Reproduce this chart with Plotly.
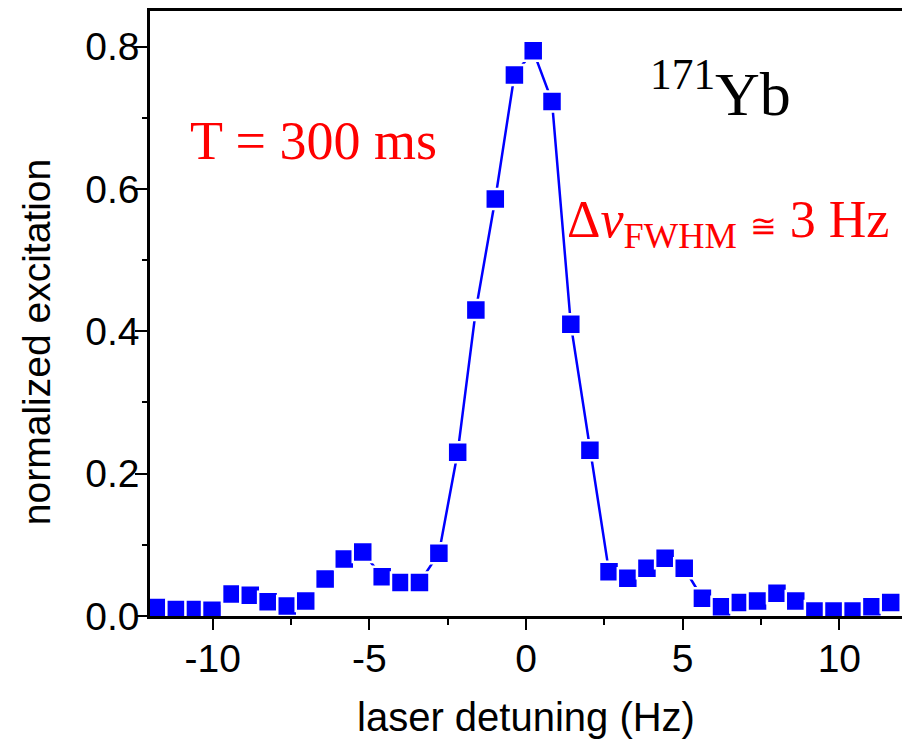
import plotly.graph_objects as go

detuning = [-11.78, -11.16, -10.55, -10.02, -9.38, -8.80, -8.23, -7.62, -7.03, -6.41,
            -5.80, -5.21, -4.59, -3.99, -3.40, -2.78, -2.18, -1.60, -0.98, -0.37,
            0.23, 0.83, 1.43, 2.04, 2.65, 3.25, 3.86, 4.44, 5.05, 5.63,
            6.24, 6.84, 7.39, 8.01, 8.61, 9.22, 9.83, 10.44, 11.04, 11.64]
excitation = [0.012, 0.009, 0.009, 0.008, 0.031, 0.029, 0.020, 0.014, 0.021, 0.052,
              0.080, 0.090, 0.055, 0.047, 0.047, 0.088, 0.230, 0.430, 0.586, 0.760,
              0.794, 0.723, 0.410, 0.233, 0.062, 0.053, 0.067, 0.081, 0.067, 0.025,
              0.013, 0.019, 0.021, 0.032, 0.021, 0.007, 0.007, 0.007, 0.013, 0.019]

x_ticks = [-10, -5, 0, 5, 10]
x_ticklabels = ["-10", "-5", "0", "5", "10"]
y_ticks = [0.0, 0.2, 0.4, 0.6, 0.8]
y_ticklabels = ["0.0", "0.2", "0.4", "0.6", "0.8"]

fig = go.Figure()
fig.add_trace(go.Scatter(
    x=detuning, y=excitation, mode="lines+markers",
    line=dict(color="#0000FF", width=2.5),
    marker=dict(symbol="square", size=20, color="#0000FF",
                line=dict(color="white", width=2.5)),
    showlegend=False,
))

sans = "Liberation Sans, Arial, sans-serif"
serif = "Liberation Serif, Times New Roman, serif"

fig.update_layout(
    width=902, height=744,
    margin=dict(l=150, r=0, t=11, b=128),
    paper_bgcolor="white", plot_bgcolor="white",
    font=dict(family=sans, color="black", size=39),
    xaxis=dict(
        range=[-12, 12], tickvals=x_ticks, ticktext=x_ticklabels, ticks="outside",
        ticklen=11, tickwidth=2, tickcolor="black", showline=True, linecolor="black",
        linewidth=2.5, mirror=True, showgrid=False, zeroline=False,
        tickfont=dict(family=sans, size=39), ticklabelstandoff=-5,
        minor=dict(dtick=2.5, tick0=-12.5, ticks="outside", ticklen=6, tickwidth=2,
                   tickcolor="black", showgrid=False),
    ),
    yaxis=dict(
        range=[0, 0.85], tickvals=y_ticks, ticktext=y_ticklabels, ticks="outside",
        ticklen=12, tickwidth=2, tickcolor="black", showline=True, linecolor="black",
        linewidth=2.5, showgrid=False, zeroline=False,
        tickfont=dict(family=sans, size=39), ticklabelstandoff=-12,
        minor=dict(dtick=0.1, tick0=0, ticks="outside", ticklen=5, tickwidth=2,
                   tickcolor="black", showgrid=False),
    ),
    annotations=[
        dict(x=0.5, y=-0.167, xref="paper", yref="paper", text="laser detuning (Hz)",
             showarrow=False, xanchor="center", yanchor="middle",
             font=dict(family=sans, size=40, color="black")),
        dict(x=-0.150, y=0.453, xref="paper", yref="paper", text="normalized excitation",
             showarrow=False, textangle=-90, xanchor="center", yanchor="middle",
             font=dict(family=sans, size=39, color="black")),
        dict(x=-6.78, y=0.668, xref="x", yref="y", text="T = 300 ms", showarrow=False,
             font=dict(family=serif, size=54, color="#FF0000")),
        dict(x=6.21, y=0.741, xref="x", yref="y", text="<sup>171</sup>Yb", showarrow=False,
             font=dict(family=serif, size=62, color="black")),
        dict(x=6.44, y=0.551, xref="x", yref="y",
             text="Δ<i>ν</i><sub>FWHM</sub> <span style='font-size:32px'>≅</span> 3 Hz",
             showarrow=False, font=dict(family=serif, size=52, color="#FF0000")),
    ],
)

fig.write_html("out.html")
